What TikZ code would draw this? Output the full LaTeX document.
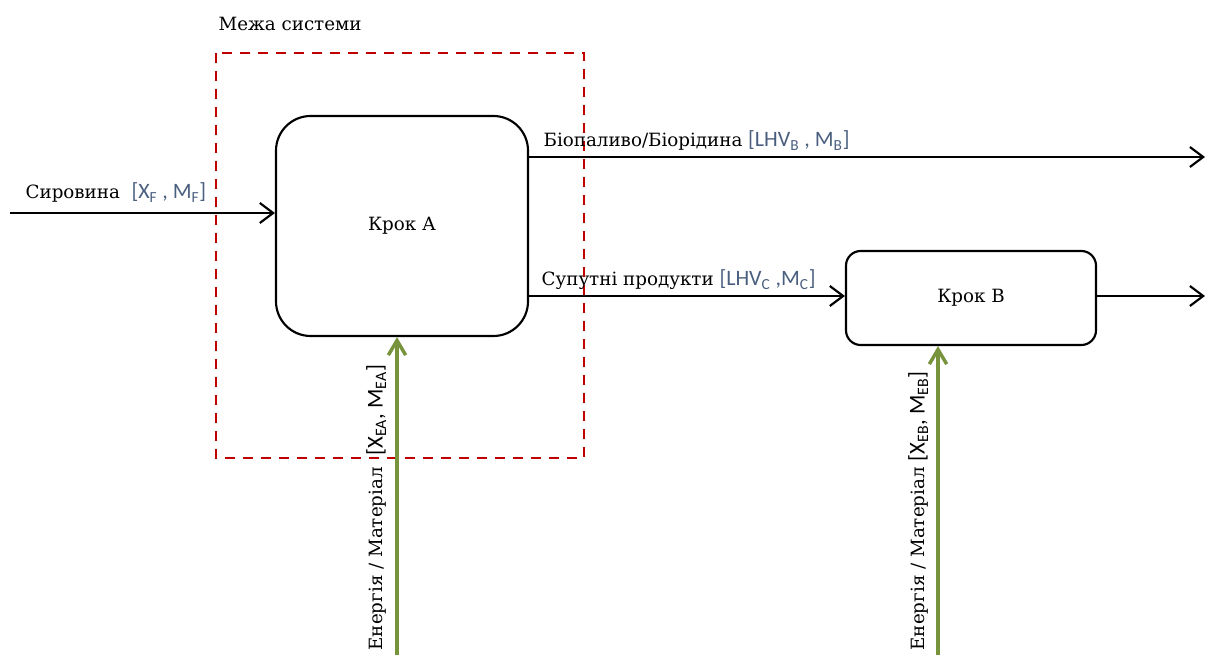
\documentclass[tikz,border=0pt]{standalone}
\usepackage{fontspec}
\setmainfont{DejaVu Serif}
\newfontfamily\calibfont{Carlito}
\usepackage{tikz}
\usetikzlibrary{positioning,arrows.meta}

\definecolor{boundred}{HTML}{C00000}
\definecolor{supplygreen}{HTML}{77933C}
\definecolor{indexblue}{HTML}{4A5F80}

\newcommand{\flowidx}[1]{{\calibfont\fontsize{16.5}{18}\selectfont\color{indexblue}#1}}
\newcommand{\supidx}[1]{{\calibfont\fontsize{17}{19}\selectfont#1}}

\begin{document}
\begin{tikzpicture}[x=0.75pt,y=-0.75pt,
  every node/.style={font=\fontsize{13.7}{16}\selectfont},
  stepbox/.style={draw,line width=1.6pt,inner sep=0pt},
  flow/.style={line width=1.6pt,-{Straight Barb[length=10pt,width=15pt]}},
  supply/.style={supplygreen,line width=2.6pt,-{Straight Barb[length=11pt,width=13pt]}},
  lab/.style={inner sep=1pt}]
  \useasboundingbox (0,0) rectangle (1205,655);

  % system boundary
  \draw[boundred,line width=1.9pt,dash pattern=on 7.5pt off 6pt]
    (216,53) rectangle (584,458);
  \node[lab,anchor=base west] (bound) at (217,31) {Межа системи};

  % process steps
  \node[stepbox,rounded corners=26pt,minimum width=189pt,minimum height=165pt]
    (stepA) at (402,226) {Крок А};
  \node[stepbox,rounded corners=11pt,minimum width=187.5pt,minimum height=70.5pt]
    (stepB) at (971,298) {Крок В};

  % free ends
  \coordinate (feed) at (10,213);
  \coordinate (bioEnd) at (1205,157);
  \coordinate (outEnd) at (1205,296);
  \coordinate (enA) at (397,655);
  \coordinate (enB) at (938,655);

  % flows
  \draw[flow] (feed) -- (feed -| stepA.west);
  \node[lab,anchor=base west] (feedLab) at (24,199)
    {Сировина~~\flowidx{[X\textsubscript{F} , M\textsubscript{F}]}};

  \draw[flow] (bioEnd -| stepA.east) -- (bioEnd);
  \node[lab,anchor=base west] (bioLab) at (542,147)
    {Біопаливо/Біорідина \flowidx{[LHV\textsubscript{B} , M\textsubscript{B}]}};

  \draw[flow] (outEnd -| stepA.east) -- (outEnd -| stepB.west);
  \node[lab,anchor=base west] (coLab) at (540,286)
    {Супутні продукти \flowidx{[LHV\textsubscript{C} ,M\textsubscript{C}]}};

  \draw[flow] (outEnd -| stepB.east) -- (outEnd);

  % energy / material supply
  \draw[supply] (enA) -- (enA |- stepA.south);
  \node[lab,rotate=90,anchor=south west] (enALab) at (388,652)
    {Енергія / Матеріал~~\supidx{[X\textsubscript{EA}, M\textsubscript{EA}]}};

  \draw[supply] (enB) -- (enB |- stepB.south);
  \node[lab,rotate=90,anchor=south west] (enBLab) at (930,652)
    {Енергія / Матеріал \supidx{[X\textsubscript{EB}, M\textsubscript{EB}]}};
\end{tikzpicture}
\end{document}
